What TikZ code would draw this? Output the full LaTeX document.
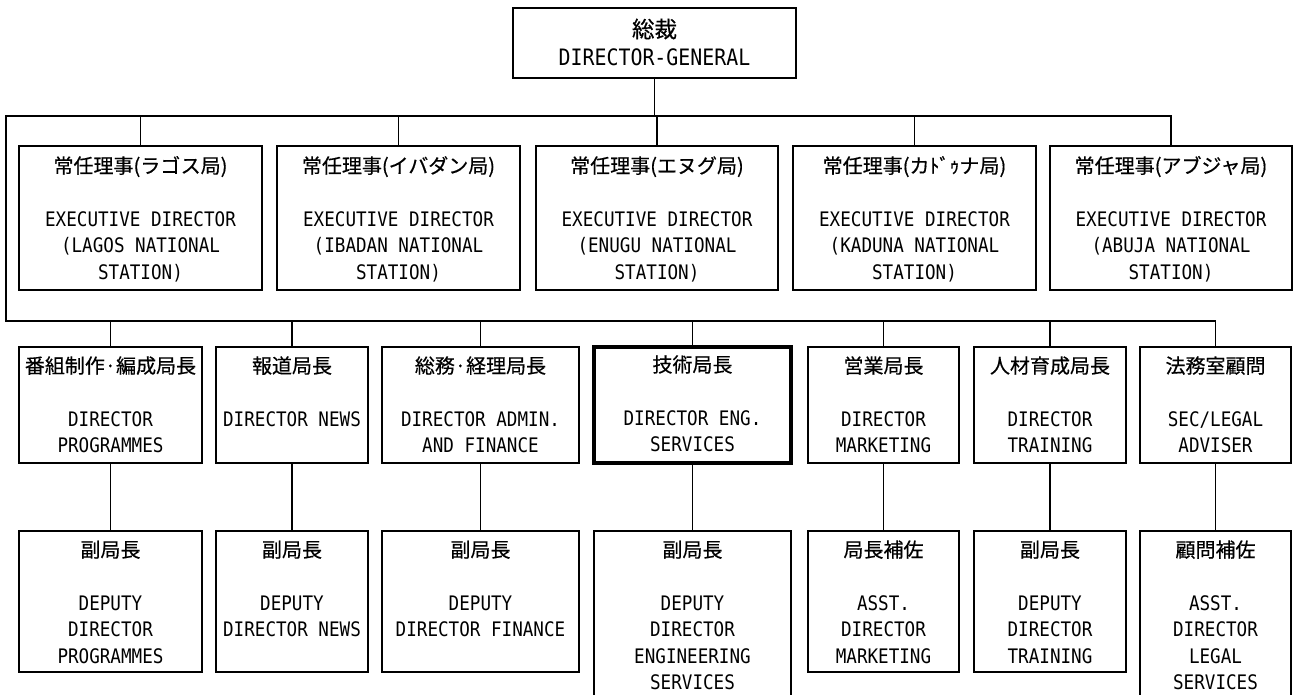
\documentclass[tikz,border=0pt]{standalone}
\usepackage{fontspec}
\setmainfont{DejaVu Sans Mono}[FakeStretch=0.88]
\newfontfamily\jpfont{Noto Sans CJK JP}[FakeBold=0.5]
\newcommand\jl[1]{{\fontsize{20}{26.5}\jpfont\rule{0pt}{20pt}#1}}
\newcommand\jlb[1]{{\fontsize{22.5}{28}\jpfont\rule{0pt}{22pt}#1}}
\tikzset{
  box/.style={draw, line width=1.3pt, rectangle, inner sep=0pt, fill=white},
  thickbox/.style={line width=3.5pt},
  txt/.style={anchor=north, inner sep=0pt, align=center, font=\fontsize{20}{26.5}\selectfont},
  bigtxt/.style={anchor=north, inner sep=0pt, align=center, font=\fontsize{22.6}{28}\selectfont},
  conn/.style={draw, line width=1.3pt},
}
% name, x1, y1, x2, y2, extra style, text offset, text
\newcommand\obox[8]{%
  \node[box,#6,minimum width={#4-#2},minimum height={#5-#3}] (#1) at ({(#2+#4)/2},{(#3+#5)/2}) {};
  \node[txt] (#1t) at ([yshift=-#7pt]#1.north) {#8};
}
\begin{document}
\begin{tikzpicture}[x=1pt,y=-1pt]
\useasboundingbox[fill=white] (0,0) rectangle (1294,695);
% top
\node[box,minimum width=283,minimum height=70] (dg) at (654.5,43) {};
\node[bigtxt] (dgt) at ([yshift=-8pt]dg.north) {\jlb{総裁}\\DIRECTOR-GENERAL};
% executive row
\obox{ex1}{19}{146}{262}{290}{}{7.6}{\jl{常任理事(ラゴス局)}\\[26.5pt]EXECUTIVE DIRECTOR\\(LAGOS NATIONAL\\STATION)}
\obox{ex2}{277}{146}{520}{290}{}{7.6}{\jl{常任理事(イバダン局)}\\[26.5pt]EXECUTIVE DIRECTOR\\(IBADAN NATIONAL\\STATION)}
\obox{ex3}{536}{146}{778}{290}{}{7.6}{\jl{常任理事(エヌグ局)}\\[26.5pt]EXECUTIVE DIRECTOR\\(ENUGU NATIONAL\\STATION)}
\obox{ex4}{793}{146}{1036}{290}{}{7.6}{\jl{常任理事(カﾄﾞｩナ局)}\\[26.5pt]EXECUTIVE DIRECTOR\\(KADUNA NATIONAL\\STATION)}
\obox{ex5}{1050}{146}{1292}{290}{}{7.6}{\jl{常任理事(アブジャ局)}\\[26.5pt]EXECUTIVE DIRECTOR\\(ABUJA NATIONAL\\STATION)}
% director row
\obox{dA}{19}{347}{202}{463}{}{6.6}{\jl{番組制作·編成局長}\\[26.5pt]DIRECTOR\\PROGRAMMES}
\obox{dB}{216}{347}{368}{463}{}{6.6}{\jl{報道局長}\\[26.5pt]DIRECTOR NEWS}
\obox{dC}{382}{347}{579}{463}{}{6.6}{\jl{総務·経理局長}\\[26.5pt]DIRECTOR ADMIN.\\AND FINANCE}
\obox{dD}{594}{347}{791}{463}{thickbox}{6.6}{\jl{技術局長}\\[26.5pt]DIRECTOR ENG.\\SERVICES}
\obox{dE}{808}{347}{959}{463}{}{6.6}{\jl{営業局長}\\[26.5pt]DIRECTOR\\MARKETING}
\obox{dF}{974}{347}{1126}{463}{}{6.6}{\jl{人材育成局長}\\[26.5pt]DIRECTOR\\TRAINING}
\obox{dG}{1140}{347}{1291}{463}{}{6.6}{\jl{法務室顧問}\\[26.5pt]SEC/LEGAL\\ADVISER}
% deputy row
\obox{pA}{19}{531}{202}{672}{}{6.6}{\jl{副局長}\\[26.5pt]DEPUTY\\DIRECTOR\\PROGRAMMES}
\obox{pB}{216}{531}{368}{672}{}{6.6}{\jl{副局長}\\[26.5pt]DEPUTY\\DIRECTOR NEWS}
\obox{pC}{382}{531}{579}{672}{}{6.6}{\jl{副局長}\\[26.5pt]DEPUTY\\DIRECTOR FINANCE}
\obox{pD}{594}{531}{791}{712}{}{6.6}{\jl{副局長}\\[26.5pt]DEPUTY\\DIRECTOR\\ENGINEERING\\SERVICES}
\obox{pE}{808}{531}{959}{672}{}{6.6}{\jl{局長補佐}\\[26.5pt]ASST.\\DIRECTOR\\MARKETING}
\obox{pF}{974}{531}{1126}{672}{}{6.6}{\jl{副局長}\\[26.5pt]DEPUTY\\DIRECTOR\\TRAINING}
\obox{pG}{1140}{531}{1291}{712}{}{6.6}{\jl{顧問補佐}\\[26.5pt]ASST.\\DIRECTOR\\LEGAL\\SERVICES}
% connectors
\coordinate (bL) at (6,116);
\coordinate (bL2) at (6,321);
\draw[conn] (dg.south) -- (dg.south |- bL);
\draw[conn] (bL2) -- (bL) -- (ex5.north |- bL) -- (ex5.north);
\foreach \n in {ex1,ex2,ex3,ex4} \draw[conn] (\n.north |- bL) -- (\n.north);
\draw[conn] (bL) -- (bL2) -- (dG.north |- bL2) -- (dG.north);
\foreach \n in {dA,dB,dC,dD,dE,dF} \draw[conn] (\n.north |- bL2) -- (\n.north);
\foreach \a/\b in {dA/pA,dB/pB,dC/pC,dD/pD,dE/pE,dF/pF,dG/pG} \draw[conn] (\a.south) -- (\b.north);
\end{tikzpicture}
\end{document}
